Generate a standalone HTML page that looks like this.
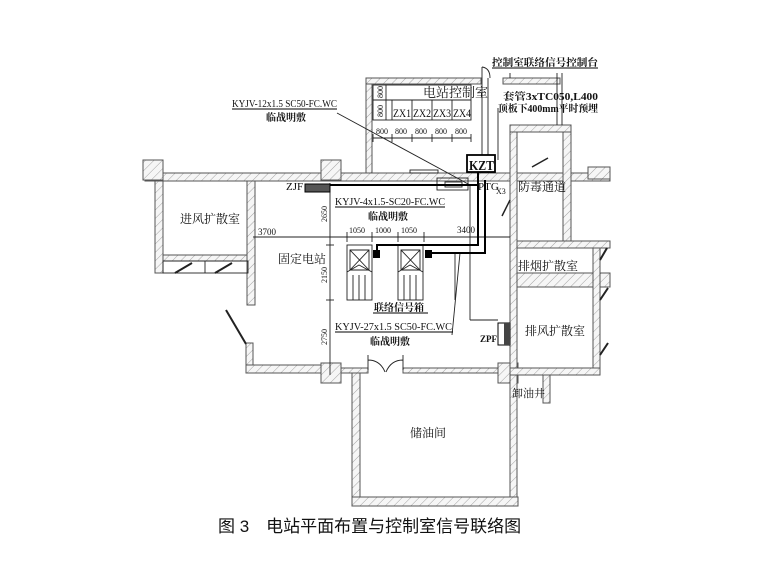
<!DOCTYPE html>
<html><head><meta charset="utf-8"><style>
html,body{margin:0;padding:0;background:#fff;}
svg{display:block}
text{font-family:"Liberation Serif","Noto Serif CJK SC",serif;fill:#111}
.s{font-family:"Liberation Sans","Noto Sans CJK SC",sans-serif}
</style></head><body>
<svg width="780" height="584" viewBox="0 0 780 584" xmlns="http://www.w3.org/2000/svg">
<defs>
<pattern id="h" width="6" height="6" patternUnits="userSpaceOnUse" patternTransform="rotate(45)">
<rect width="6" height="6" fill="#f6f6f6"/><line x1="0" y1="0" x2="0" y2="6" stroke="#999" stroke-width="0.9"/>
</pattern>
</defs>
<g fill="url(#h)" stroke="#555" stroke-width="1">
<rect x="145" y="173" width="465" height="8"/>
<rect x="143" y="160" width="20" height="20"/>
<rect x="321" y="160" width="20" height="20"/>
<rect x="588" y="167" width="22" height="12"/>
<rect x="155" y="181" width="8" height="92"/>
<rect x="163" y="255" width="85" height="6"/>
<rect x="247" y="181" width="8" height="124"/>
<rect x="246" y="343" width="7" height="30"/>
<rect x="246" y="365" width="76" height="8"/>
<rect x="321" y="363" width="20" height="20"/>
<rect x="498" y="363" width="20" height="20"/>
<rect x="366" y="78" width="115" height="6"/>
<rect x="366" y="84" width="6" height="89"/>
<rect x="503" y="78" width="57" height="6"/>
<rect x="510" y="125" width="7" height="381"/>
<rect x="510" y="125" width="61" height="7"/>
<rect x="563" y="132" width="8" height="110"/>
<rect x="517" y="241" width="93" height="7"/>
<rect x="517" y="273" width="93" height="14"/>
<rect x="593" y="248" width="7" height="120"/>
<rect x="510" y="368" width="90" height="7"/>
<rect x="543" y="375" width="7" height="28"/>
<rect x="352" y="373" width="8" height="133"/>
<rect x="352" y="497" width="166" height="9"/>
<rect x="341" y="368" width="27" height="5"/>
<rect x="403" y="368" width="95" height="5"/>
</g>
<g fill="none" stroke="#222" stroke-width="0.9">
<rect x="163" y="261" width="85" height="12"/>
<line x1="205" y1="261" x2="205" y2="273"/>
<line x1="226" y1="310" x2="246" y2="344" stroke-width="2"/>
<line x1="175" y1="273" x2="192" y2="263" stroke-width="2"/>
<line x1="215" y1="273" x2="232" y2="263" stroke-width="2"/>
<line x1="482" y1="67" x2="482" y2="173"/>
<line x1="488" y1="78" x2="488" y2="173"/>
<path d="M482 67 Q490 68 490 78"/>
<line x1="557" y1="73" x2="557" y2="125"/>
<line x1="562" y1="73" x2="562" y2="125"/>
<line x1="510" y1="73" x2="510" y2="78"/>
<line x1="498" y1="108" x2="498" y2="160"/>
<line x1="600" y1="260" x2="607" y2="248" stroke-width="2"/>
<line x1="600" y1="300" x2="608" y2="288" stroke-width="2"/>
<line x1="600" y1="355" x2="608" y2="343" stroke-width="2"/>
<line x1="502" y1="216" x2="510" y2="200" stroke-width="1.5"/>
<line x1="532" y1="167" x2="548" y2="158" stroke-width="1.5"/>
<rect x="373" y="85" width="98" height="35"/>
<line x1="373" y1="100" x2="471" y2="100"/>
<line x1="386" y1="85" x2="386" y2="120"/>
<line x1="392" y1="100" x2="392" y2="120"/>
<line x1="412" y1="100" x2="412" y2="120"/>
<line x1="432" y1="100" x2="432" y2="120"/>
<line x1="452" y1="100" x2="452" y2="120"/>
<line x1="373" y1="138" x2="471" y2="138"/>
<line x1="373" y1="134" x2="373" y2="142"/><line x1="392" y1="134" x2="392" y2="142"/><line x1="412" y1="134" x2="412" y2="142"/><line x1="432" y1="134" x2="432" y2="142"/><line x1="452" y1="134" x2="452" y2="142"/><line x1="471" y1="134" x2="471" y2="142"/>
<rect x="410" y="170" width="28" height="3"/>
<line x1="330" y1="183" x2="330" y2="375"/>
<line x1="253" y1="237" x2="510" y2="237"/>
<line x1="326" y1="245" x2="334" y2="245"/><line x1="326" y1="300" x2="334" y2="300"/>
<line x1="347" y1="232" x2="347" y2="242"/><line x1="372" y1="232" x2="372" y2="242"/><line x1="398" y1="232" x2="398" y2="242"/><line x1="424" y1="232" x2="424" y2="242"/>
<rect x="347" y="245" width="25" height="55"/>
<rect x="398" y="245" width="25" height="55"/>
<path d="M350 250 L369 270 M369 250 L350 270 M350 250 H369 V270 H350 Z"/>
<path d="M401 250 L420 270 M420 250 L401 270 M401 250 H420 V270 H401 Z"/>
<path d="M347 272 L359 265 L372 272 M353 275 V300 M359 275 V300 M365 275 V300"/>
<path d="M398 272 L410 265 L423 272 M404 275 V300 M410 275 V300 M416 275 V300"/>
<rect x="437" y="178" width="31" height="12"/>
<rect x="445" y="182" width="17" height="5"/>
<line x1="470" y1="185" x2="470" y2="320"/>
<line x1="470" y1="320" x2="498" y2="320"/>
<line x1="455" y1="253" x2="455" y2="300"/>
<line x1="460" y1="253" x2="452" y2="335"/>
<line x1="337" y1="113" x2="470" y2="185"/>
<path d="M368 355 V370 M403 355 V370 M368 360 Q380 360 385 372 M403 360 Q391 360 386 372"/>
</g>
<g fill="none" stroke="#000" stroke-width="2">
<line x1="330" y1="185" x2="478" y2="185"/>
<polyline points="377,250 377,245 478,245 478,185"/>
<polyline points="432,253 485,253 485,180"/>
<line x1="478" y1="171" x2="478" y2="185"/>
</g>
<rect x="305" y="184" width="25" height="8" fill="#555" stroke="#000"/>
<rect x="373" y="250" width="7" height="8" fill="#000"/>
<rect x="425" y="250" width="7" height="8" fill="#000"/>
<rect x="498" y="323" width="12" height="22" fill="#fff" stroke="#000"/>
<rect x="504" y="323" width="6" height="22" fill="#444"/>
<rect x="467" y="155" width="28" height="17" fill="#fff" stroke="#000" stroke-width="1.8"/>
<g stroke="#000" stroke-width="1">
<line x1="232" y1="109" x2="337" y2="109"/>
<line x1="335" y1="207" x2="445" y2="207"/>
<line x1="373" y1="313" x2="428" y2="313"/>
<line x1="335" y1="332" x2="453" y2="332"/>
<line x1="492" y1="68" x2="598" y2="68"/>
</g>
<g font-size="10">
<text x="232" y="107" textLength="105" lengthAdjust="spacingAndGlyphs">KYJV-12x1.5 SC50-FC.WC</text>
<text x="266" y="121" font-weight="bold">临战明敷</text>
<text x="423" y="97" font-size="13">电站控制室</text>
<text x="393" y="117" font-size="12" textLength="18" lengthAdjust="spacingAndGlyphs">ZX1</text><text x="413" y="117" font-size="12" textLength="18" lengthAdjust="spacingAndGlyphs">ZX2</text><text x="433" y="117" font-size="12" textLength="18" lengthAdjust="spacingAndGlyphs">ZX3</text><text x="453" y="117" font-size="12" textLength="18" lengthAdjust="spacingAndGlyphs">ZX4</text>
<text x="376" y="134" font-size="8">800</text><text x="395" y="134" font-size="8">800</text><text x="415" y="134" font-size="8">800</text><text x="435" y="134" font-size="8">800</text><text x="455" y="134" font-size="8">800</text>
<text x="383" y="98" font-size="8" transform="rotate(-90 383 98)">800</text>
<text x="383" y="117" font-size="8" transform="rotate(-90 383 117)">800</text>
<text x="492" y="66" font-weight="bold" textLength="106" lengthAdjust="spacingAndGlyphs">控制室联络信号控制台</text>
<text x="503" y="100" font-weight="bold" textLength="95" lengthAdjust="spacingAndGlyphs">套管3xTC050,L400</text>
<text x="498" y="112" font-weight="bold" textLength="100" lengthAdjust="spacingAndGlyphs">顶板下400mm平时预埋</text>
<text x="469" y="170" font-size="14" font-weight="bold" textLength="25" lengthAdjust="spacingAndGlyphs">KZT</text>
<text x="478" y="190" font-size="11">PTG</text><text x="496" y="194" font-size="8">X3</text>
<text x="518" y="191" font-size="12">防毒通道</text>
<text x="286" y="190" font-size="11">ZJF</text>
<text x="335" y="205" textLength="110" lengthAdjust="spacingAndGlyphs">KYJV-4x1.5-SC20-FC.WC</text>
<text x="368" y="220" font-weight="bold">临战明敷</text>
<text x="258" y="235" font-size="9">3700</text>
<text x="349" y="233" font-size="8">1050</text><text x="375" y="233" font-size="8">1000</text><text x="401" y="233" font-size="8">1050</text>
<text x="457" y="233" font-size="9">3400</text>
<text x="180" y="223" font-size="12">进风扩散室</text>
<text x="278" y="263" font-size="12">固定电站</text>
<text x="327" y="222" font-size="8" transform="rotate(-90 327 222)">2650</text>
<text x="327" y="283" font-size="8" transform="rotate(-90 327 283)">2150</text>
<text x="327" y="345" font-size="8" transform="rotate(-90 327 345)">2750</text>
<text x="374" y="311" font-weight="bold">联络信号箱</text>
<text x="335" y="330" textLength="117" lengthAdjust="spacingAndGlyphs">KYJV-27x1.5 SC50-FC.WC</text>
<text x="370" y="345" font-weight="bold">临战明敷</text>
<text x="480" y="342" font-size="9" font-weight="bold">ZPF</text>
<text x="518" y="270" font-size="12">排烟扩散室</text>
<text x="525" y="335" font-size="12">排风扩散室</text>
<text x="512" y="397" font-size="11">卸油井</text>
<text x="410" y="437" font-size="12">储油间</text>
</g>
<text class="s" x="218" y="532" font-size="17">图 3　电站平面布置与控制室信号联络图</text>
</svg>
</body></html>
